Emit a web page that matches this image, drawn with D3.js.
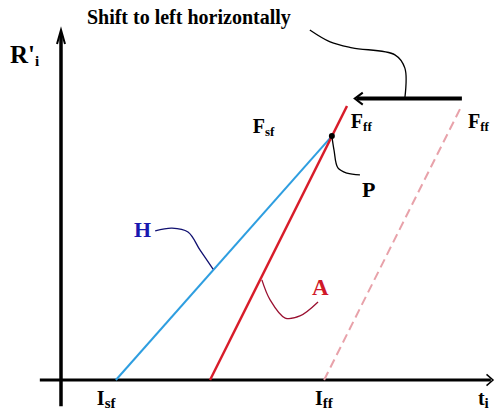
<!DOCTYPE html>
<html><head><meta charset="utf-8">
<script src="https://cdn.jsdelivr.net/npm/d3@7"></script>
<style>html,body{margin:0;padding:0;background:#fff}svg{display:block}
text{font-family:"Liberation Serif","Times New Roman","DejaVu Serif",serif;font-weight:bold}</style>
</head><body>
<script>
// Data (arbitrary units: x = t_i, y = R'_i)
const lineNames = ["H", "A", "shifted"];
const lineStartX = [12.7, 34.5, 60.9];
const lineEndX = [62.7, 66.2, 92.6];
const lineEndY = [69.7, 78.3, 78.0];
const lineColors = ["#2e9ee0", "#d81c2a", "#e8a2aa"];
const pointP = [62.7, 69.7];
const shiftArrowX = [92.8, 68.0];
const shiftArrowY = 80.4;
const leaderH = [[21.8,42.6],[25.7,43.4],[29.4,42.3],[32.2,37.1],[35.2,31.7]];
const leaderA = [[46.5,28.6],[48.4,22.9],[51.9,17.7],[55.3,18.3],[59.5,22.3]];
const leaderP = [[62.7,69.7],[63.2,65.7],[64.1,60.6],[66.2,59.1],[69.2,58.6]];
const leaderShift = [[57.6,100],[62.3,96.6],[67.4,94.9],[77.3,92.9],[79.6,89.1],[79.6,80.6]];

const W = 495, H = 412;
const svg = d3.select("body").append("svg").attr("width", W).attr("height", H);
const x = d3.scaleLinear().domain([0, 100]).range([61, 493]);
const y = d3.scaleLinear().domain([0, 100]).range([380, 30]);

// axes
svg.append("line").attr("x1", x(-4.9)).attr("x2", x(99.5)).attr("y1", y(0)).attr("y2", y(0))
  .attr("stroke", "#000").attr("stroke-width", 3);
svg.append("line").attr("x1", x(0)).attr("x2", x(0)).attr("y1", y(-7.5)).attr("y2", y(99))
  .attr("stroke", "#000").attr("stroke-width", 3.5);
svg.append("path").attr("d", `M${x(0)-4},${y(96)} L${x(0)},${y(100)} L${x(0)+4},${y(96)}`)
  .attr("fill", "none").attr("stroke", "#000").attr("stroke-width", 2);
svg.append("path").attr("d", `M${x(98.5)},${y(1.6)} L${x(100)},${y(0)} L${x(98.5)},${y(-1.6)}`)
  .attr("fill", "none").attr("stroke", "#000").attr("stroke-width", 1.5);

// lines
lineNames.forEach((n, i) => {
  svg.append("line")
    .attr("x1", x(lineStartX[i])).attr("y1", y(0))
    .attr("x2", x(lineEndX[i])).attr("y2", y(lineEndY[i]))
    .attr("stroke", lineColors[i])
    .attr("stroke-width", n === "A" ? 2.5 : 2)
    .attr("stroke-dasharray", n === "shifted" ? "9,5" : null);
});

// curves / leaders
const curve = d3.line().x(d => x(d[0])).y(d => y(d[1])).curve(d3.curveCatmullRom);
svg.append("path").attr("d", curve(leaderH)).attr("fill", "none").attr("stroke", "#101070").attr("stroke-width", 1.3);
svg.append("path").attr("d", curve(leaderA)).attr("fill", "none").attr("stroke", "#9a1030").attr("stroke-width", 1.3);
svg.append("path").attr("d", curve(leaderP)).attr("fill", "none").attr("stroke", "#000").attr("stroke-width", 1.3);
svg.append("path").attr("d", curve(leaderShift)).attr("fill", "none").attr("stroke", "#000").attr("stroke-width", 1.3);

// shift arrow
svg.append("line").attr("x1", x(shiftArrowX[0])).attr("x2", x(shiftArrowX[1]) + 2)
  .attr("y1", y(shiftArrowY)).attr("y2", y(shiftArrowY)).attr("stroke", "#000").attr("stroke-width", 4);
svg.append("path").attr("d", `M${x(shiftArrowX[1])+8},${y(shiftArrowY)-6} L${x(shiftArrowX[1])},${y(shiftArrowY)} L${x(shiftArrowX[1])+8},${y(shiftArrowY)+6}`)
  .attr("fill", "none").attr("stroke", "#000").attr("stroke-width", 2);

svg.append("circle").attr("cx", x(pointP[0])).attr("cy", y(pointP[1])).attr("r", 3).attr("fill", "#000");

// labels
const labelText = ["Shift to left horizontally", "R'", "F", "F", "F", "P", "H", "A", "I", "I", "t"];
const labelSub = ["", "i", "sf", "ff", "ff", "", "", "", "sf", "ff", "i"];
const labelX = [6.0, -11.8, 44.4, 67.1, 94.2, 69.7, 16.9, 58.1, 8.3, 58.8, 96.5];
const labelY = [101.7, 90.6, 70.6, 72.0, 72.0, 52.3, 40.9, 24.3, -7.1, -7.1, -7.1];
const labelSize = [20, 25, 20, 20, 20, 22, 22, 23, 20, 20, 20];
const subSize = [0, 15, 13, 13, 13, 0, 0, 0, 15, 15, 15];
const labelColor = ["#000", "#000", "#000", "#000", "#000", "#000", "#1818b0", "#d01828", "#000", "#000", "#000"];

labelText.forEach((t, i) => {
  const txt = svg.append("text")
    .attr("x", x(labelX[i])).attr("y", y(labelY[i]))
    .attr("font-size", labelSize[i])
    .attr("fill", labelColor[i]);
  txt.append("tspan").text(t);
  if (labelSub[i]) {
    txt.append("tspan").attr("dy", 3)
      .attr("font-size", subSize[i]).text(labelSub[i]);
  }
});
</script>
</body></html>
